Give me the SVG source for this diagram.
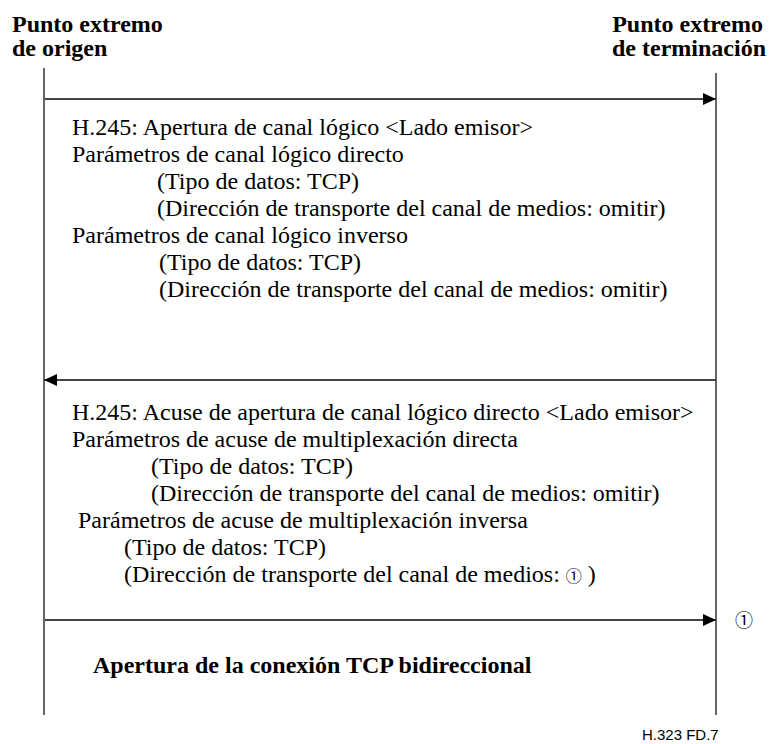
<svg xmlns="http://www.w3.org/2000/svg" width="769" height="744" viewBox="0 0 769 744">
<style>
.hdr{font-family:'Liberation Serif',serif;font-weight:bold;font-size:24px;fill:#000}
.t{font-family:'Liberation Serif',serif;font-size:24px;fill:#000}
.b{font-family:'Liberation Serif',serif;font-weight:bold;font-size:24px;fill:#000}
.c{font-family:'Noto Sans CJK JP',sans-serif;fill:#000}
.life{stroke:#000;stroke-width:1.2;fill:none}
.msg{stroke:#444;stroke-width:2;fill:none}
.fig{font-family:'Liberation Sans',sans-serif;font-size:15px;fill:#000}
</style>
<defs>
<marker id="ah" markerWidth="13" markerHeight="12" refX="13" refY="6" orient="auto" markerUnits="userSpaceOnUse">
<path d="M0,0 L13,6 L0,12 Z" fill="#000"/>
</marker>
</defs>
<g id="origen">
<text class="hdr" x="12" y="32">Punto extremo</text>
<text class="hdr" x="12" y="56">de origen</text>
<line class="life" x1="44" y1="68" x2="44" y2="715"/>
</g>
<g id="terminacion">
<text class="hdr" x="763" y="32" text-anchor="end">Punto extremo</text>
<text class="hdr" x="766" y="56" text-anchor="end">de terminación</text>
<line class="life" x1="716" y1="73" x2="716" y2="715"/>
</g>
<g id="connectors">
<line class="msg" x1="45" y1="99" x2="716" y2="99" marker-end="url(#ah)"/>
<line class="msg" x1="716" y1="380" x2="44" y2="380" marker-end="url(#ah)"/>
<line class="msg" x1="45" y1="620" x2="716" y2="620" marker-end="url(#ah)"/>
</g>
<g id="msg1">
<text class="t" x="72" y="135">H.245: Apertura de canal lógico &lt;Lado emisor&gt;</text>
<text class="t" x="72" y="162">Parámetros de canal lógico directo</text>
<text class="t" x="157" y="189">(Tipo de datos: TCP)</text>
<text class="t" x="157" y="216">(Dirección de transporte del canal de medios: omitir)</text>
<text class="t" x="72" y="243">Parámetros de canal lógico inverso</text>
<text class="t" x="159" y="270">(Tipo de datos: TCP)</text>
<text class="t" x="159" y="297">(Dirección de transporte del canal de medios: omitir)</text>
</g>
<g id="msg2">
<text class="t" x="72" y="420">H.245: Acuse de apertura de canal lógico directo &lt;Lado emisor&gt;</text>
<text class="t" x="72" y="447">Parámetros de acuse de multiplexación directa</text>
<text class="t" x="151" y="474">(Tipo de datos: TCP)</text>
<text class="t" x="151" y="501">(Dirección de transporte del  canal de medios: omitir)</text>
<text class="t" x="78" y="528">Parámetros de acuse de multiplexación inversa</text>
<text class="t" x="124" y="555">(Tipo de datos: TCP)</text>
<text class="t" x="124" y="582">(Dirección de transporte del canal de medios: <tspan class="c" font-size="16">①</tspan> )</text>
</g>
<g id="msg3">
<text class="c" x="735" y="627" font-size="18">①</text>
<text class="b" x="93" y="673">Apertura de la conexión TCP bidireccional</text>
</g>
<text class="fig" x="642" y="740">H.323  FD.7</text>
</svg>
